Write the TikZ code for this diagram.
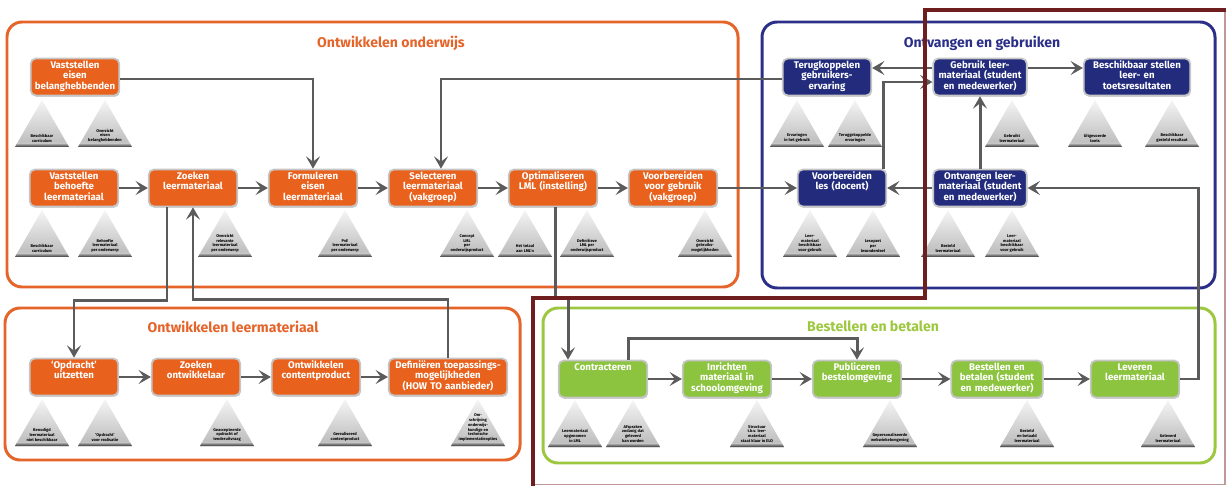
\documentclass[tikz,border=0pt]{standalone}
\usepackage{fontspec}
\setmainfont{Fira Sans}
\usepackage{tikz}
\usetikzlibrary{arrows.meta,calc,shadows}
\definecolor{oranje}{HTML}{E8621E}
\definecolor{oframe}{HTML}{E5642A}
\definecolor{navy}{HTML}{232C7C}
\definecolor{nframe}{HTML}{2B2F87}
\definecolor{groen}{HTML}{8CC43F}
\definecolor{gframe}{HTML}{9DC73E}
\definecolor{pijl}{HTML}{5B5B5B}
\definecolor{bordeaux}{HTML}{6E1E1E}
\tikzset{
  kader/.style={line width=1.7pt,rounded corners=0.3cm},
  titel/.style={font=\fontsize{8}{9}\selectfont\bfseries},
  stap/.style={rounded corners=0.1cm,draw=gray!45,line width=1pt,text=white,
    align=center,text width=1.7cm,inner xsep=1pt,inner ysep=1.5pt,
    text height=4pt,text depth=14pt,font=\fontsize{5.5}{6.1}\selectfont\bfseries,
    drop shadow={opacity=0.35,shadow xshift=0.4pt,shadow yshift=-0.8pt}},
  stapO/.style={stap,fill=oranje},
  stapB/.style={stap,fill=navy},
  stapG/.style={stap,fill=groen},
  flow/.style={draw=pijl,line width=1.7pt,-{Stealth[length=7pt,width=8pt,inset=3pt]}},
  doclab/.style={font=\fontsize{2.3}{2.7}\selectfont\bfseries,align=center,
    anchor=south,inner sep=0.4pt,text=black},
}
% document-driehoek: naam, x, top y, tekst
\newcommand{\doctri}[4]{%
  \shade[top color=gray!8,bottom color=gray!55] (#2,#3) -- (#2+27,#3+47) -- (#2-27,#3+47) -- cycle;
  \shade[top color=gray!45,bottom color=black!80] (#2-24.7,#3+43) -- (#2+24.7,#3+43) -- (#2+27,#3+47) -- (#2-27,#3+47) -- cycle;
  \node[doclab] (#1) at (#2,#3+43.5) {#4};
}

\begin{document}
\begin{tikzpicture}[x=0.02cm,y=-0.02cm]
  \useasboundingbox (0,0) rectangle (1227,486);
  % kaders
  \draw[kader,oframe] (7,22) rectangle (738,287);
  \draw[kader,nframe] (762,22) rectangle (1215,288);
  \draw[kader,oframe] (5,308) rectangle (520,460);
  \draw[kader,gframe] (543,308) rectangle (1215,463);
  \node[titel,oframe] (t-ond) at (391,43) {Ontwikkelen onderwijs};
  \node[titel,nframe] (t-ontv) at (982,43) {Ontvangen en gebruiken};
  \node[titel,oframe] (t-lm) at (233,327) {Ontwikkelen leermateriaal};
  \node[titel,gframe] (t-best) at (873,326) {Bestellen en betalen};

  % ontwikkelen onderwijs
  \node[stapO] (veb) at (75,77) {Vaststellen\\eisen\\belanghebbenden};
  \node[stapO] (vbl) at (74,188) {Vaststellen\\behoefte\\leermateriaal};
  \node[stapO] (zoek) at (193,188) {Zoeken\\leermateriaal};
  \node[stapO] (form) at (313,188) {Formuleren\\eisen\\leermateriaal};
  \node[stapO] (sel) at (433,188) {Selecteren\\leermateriaal\\(vakgroep)};
  \node[stapO] (opt) at (553,188) {Optimaliseren\\LML (instelling)};
  \node[stapO] (vvg) at (673,188) {Voorbereiden\\voor gebruik\\(vakgroep)};
  % ontvangen en gebruiken
  \node[stapB] (terug) at (827,77) {Terugkoppelen\\gebruikers-\\ervaring};
  \node[stapB,text width=1.8cm] (gebr) at (980,77) {Gebruik leer-\\materiaal (student\\en medewerker)};
  \node[stapB,text width=2.06cm] (besch) at (1137,77) {Beschikbaar stellen\\leer- en\\toetsresultaten};
  \node[stapB] (vles) at (842,188) {Voorbereiden\\les (docent)};
  \node[stapB,text width=1.8cm] (ontv) at (980,188) {Ontvangen leer-\\materiaal (student\\en medewerker)};
  % ontwikkelen leermateriaal
  \node[stapO] (opdr) at (74,377) {‘Opdracht’\\uitzetten};
  \node[stapO] (zoek2) at (196,377) {Zoeken\\ontwikkelaar};
  \node[stapO] (ontw) at (316,377) {Ontwikkelen\\contentproduct};
  \node[stapO,text width=2.3cm] (def) at (448,377) {Definiëren toepassings-\\mogelijkheden\\(HOW TO aanbieder)};
  % bestellen en betalen
  \node[stapG] (contr) at (603,379) {Contracteren};
  \node[stapG] (inr) at (727,379) {Inrichten\\materiaal in\\schoolomgeving};
  \node[stapG] (publ) at (857,379) {Publiceren\\bestelomgeving};
  \node[stapG,text width=1.76cm] (best) at (997,379) {Bestellen en\\betalen (student\\en medewerker)};
  \node[stapG] (lev) at (1135,379) {Leveren\\leermateriaal};

  % documenten
  \doctri{veb-a}{42}{100}{Beschikbaar\\curriculum}
  \doctri{veb-b}{105}{100}{Overzicht\\eisen\\belanghebbenden}
  \doctri{vbl-a}{42}{210}{Beschikbaar\\curriculum}
  \doctri{vbl-b}{105}{210}{Behoefte\\leermateriaal\\per onderwerp}
  \doctri{zoek-a}{225}{210}{Overzicht\\relevante\\leermateriaal\\per onderwerp}
  \doctri{form-a}{345}{210}{PvE\\leermateriaal\\per onderwerp}
  \doctri{sel-a}{467}{210}{Concept\\LML\\per\\onderwijsproduct}
  \doctri{opt-a}{525}{210}{Het totaal\\aan LML'n}
  \doctri{opt-b}{587}{210}{Definitieve\\LML per\\onderwijsproduct}
  \doctri{vvg-a}{705}{210}{Overzicht\\gebruiks-\\mogelijkheden}
  \doctri{terug-a}{797}{100}{Ervaringen\\in het gebruik}
  \doctri{terug-b}{855}{100}{Teruggekoppelde\\ervaringen}
  \doctri{gebr-a}{1012}{100}{Gebruikt\\leermateriaal}
  \doctri{besch-a}{1095}{100}{Uitgevoerde\\toets}
  \doctri{besch-b}{1172}{100}{Beschikbaar\\gesteld resultaat}
  \doctri{vles-a}{810}{210}{Leer-\\materiaal\\beschikbaar\\voor gebruik}
  \doctri{vles-b}{873}{210}{Lesopzet\\per\\lesonderdeel}
  \doctri{ontv-a}{948}{210}{Besteld\\leermateriaal}
  \doctri{ontv-b}{1012}{210}{Leer-\\materiaal\\beschikbaar\\voor gebruik}
  \doctri{opdr-a}{42}{399}{Benodigd\\leermateriaal\\niet beschikbaar}
  \doctri{opdr-b}{105}{399}{‘Opdracht’\\voor realisatie}
  \doctri{zoek2-a}{227}{399}{Geaccepteerde\\opdracht of\\tenderuitvraag}
  \doctri{ontw-a}{345}{399}{Gerealiseerd\\contentproduct}
  \doctri{def-a}{478}{399}{Om-\\schrijving\\onderwijs-\\kundige en\\technische\\implementatieopties}
  \doctri{contr-a}{575}{400}{Leermateriaal\\opgenomen\\in LML}
  \doctri{contr-b}{633}{400}{Afspraken\\zodanig dat\\geleverd\\kan worden}
  \doctri{inr-a}{757}{400}{Structuur\\t.b.v. leer-\\materiaal\\staat klaar in ELO}
  \doctri{publ-a}{890}{400}{Gepersonaliseerde\\webwinkelomgeving}
  \doctri{best-a}{1027}{400}{Besteld\\en betaald\\leermateriaal}
  \doctri{lev-a}{1168}{400}{Geleverd\\leermateriaal}

  % stroom
  \draw[flow] ($(veb.east)+(0,2)$) -| (form.north);
  \draw[flow] (vbl) -- (zoek);
  \draw[flow] (zoek) -- (form);
  \draw[flow] (form) -- (sel);
  \draw[flow] (sel) -- (opt);
  \draw[flow] (opt) -- (vvg);
  \draw[flow] (vvg) -- (vles);
  \draw[flow] ($(terug.west)+(0,2)$) -| ($(sel.north)+(8,0)$);
  \draw[flow] ($(gebr.west)+(0,-9)$) coordinate (gw) -- (gw -| terug.east);
  \draw[flow] ($(gebr.east)+(0,-9)$) coordinate (ge) -- (ge -| besch.west);
  \draw[flow] ($(vles.north east)+(-4,0)$) |- ($(gebr.west)+(0,5)$);
  \draw[flow] (ontv.north) -- (gebr.south);
  \draw[flow] (ontv) -- (vles);
  \draw[flow] (lev.east) -- ++(18,0) |- (ontv.east);
  \draw[flow] ($(zoek.south)+(-26,0)$) -- ++(0,93) -| (opdr.north);
  \draw[flow] (def.north) -- ++(0,-58) -| (zoek.south);
  \draw[flow] ($(opt.south)+(2,0)$) -- ++(0,91) -| ($(contr.north)+(-35,0)$);
  \draw[flow] ($(contr.north)+(25,0)$) -- ++(0,-21) -| (publ.north);
  \draw[flow] (opdr) -- (zoek2);
  \draw[flow] (zoek2) -- (ontw);
  \draw[flow] (ontw) -- (def);
  \draw[flow] (contr) -- (inr);
  \draw[flow] (inr) -- (publ);
  \draw[flow] (publ) -- (best);
  \draw[flow] (best) -- (lev);

  % bordeaux omlijning
  \draw[bordeaux!45,line width=0.6pt] (1225,10) -- (1225,484.5) -- (533,484.5);
  \draw[bordeaux,line width=2.8pt] (533,486) -- (533,298) -- (925,298) -- (925,10) -- (1226,10);
\end{tikzpicture}
\end{document}
